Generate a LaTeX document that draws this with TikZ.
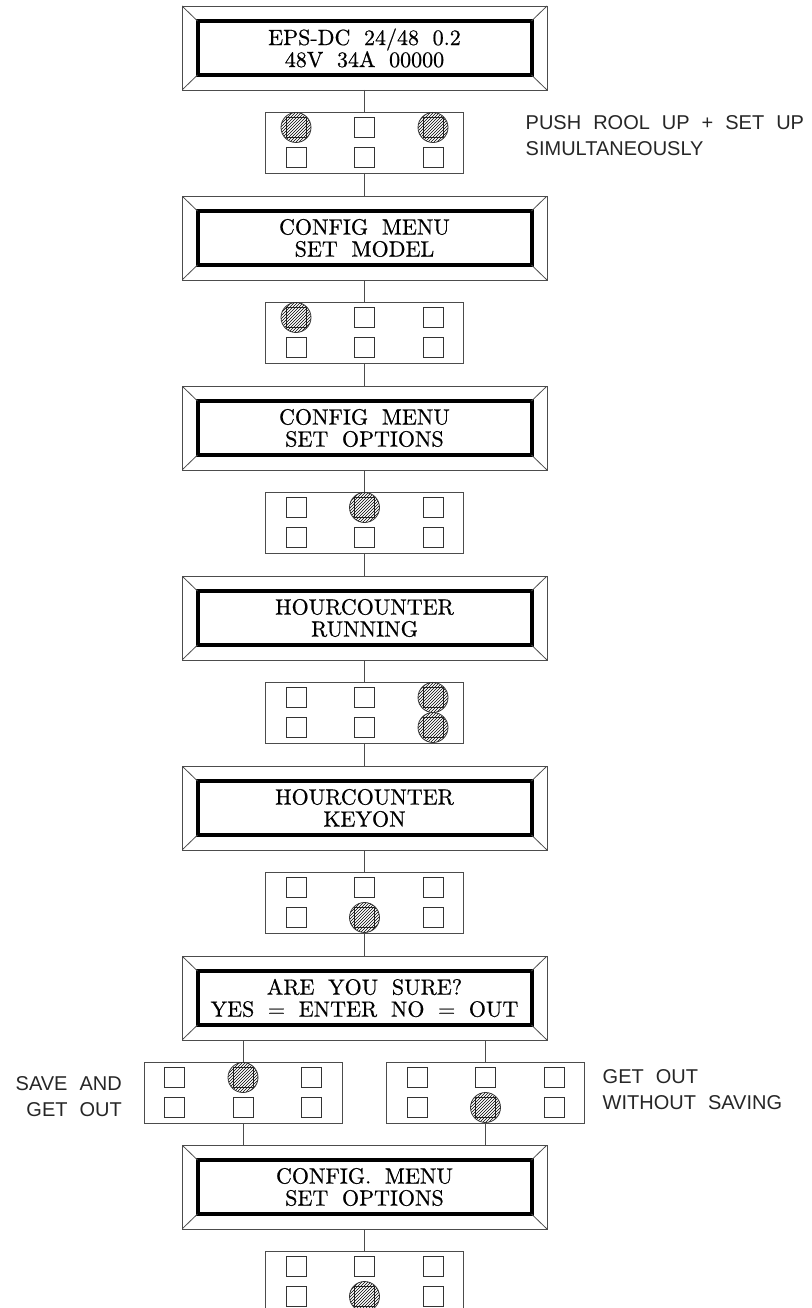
\documentclass[tikz,border=0pt]{standalone}
\usepackage{fontspec}
\newfontfamily\cadfont{Liberation Sans}
\newfontfamily\lcdfont{lmroman10-regular.otf}[FakeBold=0.6]
\usetikzlibrary{positioning,patterns}

% six keys of one keypad, #2 = pressed keys as row-column
\newcommand{\keypadkeys}[2]{%
  \foreach \col/\dx in {1/-68.5,2/0,3/68.5}
    \foreach \row/\dy in {1/15,2/-15}
      \node[key] (#1-\row\col) at ([shift={(\dx pt,\dy pt)}]#1.center) {};
  \foreach \k in {#2}
    \node[hit] (#1-\k-hit) at (#1-\k) {};
}

\begin{document}
\begin{tikzpicture}[
  node distance=22pt,
  lcd/.style={draw=black!70, line width=0.9pt, minimum width=365pt,
    minimum height=84pt, inner sep=0pt, outer sep=0pt, align=center,
    font={\lcdfont\fontsize{22}{22}\selectfont\spaceskip=0.62em\relax},
    path picture={
      \draw[black, line width=4pt]
        ([shift={(15.5pt,-15pt)}]path picture bounding box.north west) rectangle
        ([shift={(-15.5pt,15pt)}]path picture bounding box.south east);
      \draw[black!70, line width=0.8pt]
        (path picture bounding box.north west) -- ++(15.5pt,-15pt)
        (path picture bounding box.north east) -- ++(-15.5pt,-15pt)
        (path picture bounding box.south west) -- ++(15.5pt,15pt)
        (path picture bounding box.south east) -- ++(-15.5pt,15pt);
    }},
  keypad/.style={draw=black!70, line width=0.9pt, minimum width=198pt,
    minimum height=61pt, outer sep=0pt},
  key/.style={draw=black!80, line width=0.8pt, minimum size=20pt,
    inner sep=0pt, outer sep=0pt},
  hit/.style={circle, draw=black!80, line width=0.8pt, minimum size=30pt,
    inner sep=0pt, pattern=north east lines, pattern color=black},
  note/.style={font={\cadfont\fontsize{20}{26}\selectfont\spaceskip=0.6em\relax},
    align=left, inner sep=0pt, text=black!85},
  link/.style={draw=black!70, line width=0.8pt},
]
\useasboundingbox (0,0) rectangle (811pt,-1308pt);

\node[lcd] (menu0) at (364.5pt,-48pt) {EPS-DC 24/48 0.2\\48V 34A 00000};
\node[keypad, below=of menu0] (pad0) {};
\node[lcd, below=23pt of pad0] (menu1) {CONFIG MENU\\SET MODEL};
\node[keypad, below=of menu1] (pad1) {};
\node[lcd, below=23pt of pad1] (menu2) {CONFIG MENU\\SET OPTIONS};
\node[keypad, below=of menu2] (pad2) {};
\node[lcd, below=23pt of pad2] (menu3) {HOURCOUNTER\\RUNNING};
\node[keypad, below=of menu3] (pad3) {};
\node[lcd, below=23pt of pad3] (menu4) {HOURCOUNTER\\KEYON};
\node[keypad, below=of menu4] (pad4) {};
\node[lcd, below=23pt of pad4] (menu5) {ARE YOU SURE?\\YES = ENTER NO = OUT};
\node[keypad, below=of menu5, xshift=-121.5pt] (padsave) {};
\node[keypad, below=of menu5, xshift=121pt] (padquit) {};
\coordinate (mid6) at (padsave.south -| menu5);
\node[lcd, below=22pt of mid6] (menu6) {CONFIG. MENU\\SET OPTIONS};
\node[keypad, below=of menu6] (pad6) {};

\keypadkeys{pad0}{11,13}
\keypadkeys{pad1}{11}
\keypadkeys{pad2}{12}
\keypadkeys{pad3}{13,23}
\keypadkeys{pad4}{22}
\keypadkeys{padsave}{12}
\keypadkeys{padquit}{22}
\keypadkeys{pad6}{22}

\node[note, right=62pt of pad0, yshift=6.5pt] (pushnote) {PUSH ROOL UP + SET UP\\SIMULTANEOUSLY};
\node[note, align=right, left=22pt of padsave, yshift=-4.5pt] (savenote) {SAVE AND\\GET OUT};
\node[note, right=18pt of padquit, yshift=2.5pt] (quitnote) {GET OUT\\WITHOUT SAVING};

\draw[link] (menu0) -- (pad0);
\draw[link] (pad0) -- (menu1);
\draw[link] (menu1) -- (pad1);
\draw[link] (pad1) -- (menu2);
\draw[link] (menu2) -- (pad2);
\draw[link] (pad2) -- (menu3);
\draw[link] (menu3) -- (pad3);
\draw[link] (pad3) -- (menu4);
\draw[link] (menu4) -- (pad4);
\draw[link] (pad4) -- (menu5);
\draw[link] (padsave.north |- menu5.south) -- (padsave.north);
\draw[link] (padquit.north |- menu5.south) -- (padquit.north);
\draw[link] (padsave.south) -- (padsave.south |- menu6.north);
\draw[link] (padquit.south) -- (padquit.south |- menu6.north);
\draw[link] (menu6) -- (pad6);
\end{tikzpicture}
\end{document}
